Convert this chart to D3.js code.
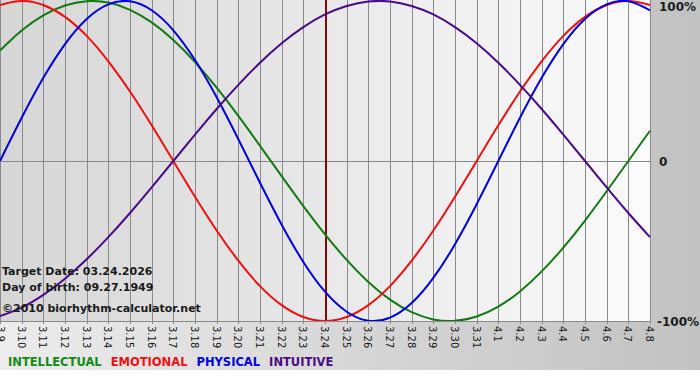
<!DOCTYPE html>
<html><head><meta charset="utf-8">
<script src="https://cdn.jsdelivr.net/npm/d3@7"></script>
<style>body{margin:0;background:#fff}svg{display:block}</style>
</head><body>
<script>
const dayLabels = ["3.9","3.10","3.11","3.12","3.13","3.14","3.15","3.16","3.17","3.18","3.19","3.20","3.21","3.22","3.23","3.24","3.25","3.26","3.27","3.28","3.29","3.30","3.31","4.1","4.2","4.3","4.4","4.5","4.6","4.7","4.8"];
const physical = [0,27.0,52.0,73.1,88.8,97.9,99.8,94.2,81.7,63.1,39.8,13.6,-13.6,-39.8,-63.1,-81.7,-94.2,-99.8,-97.9,-88.8,-73.1,-52.0,-27.0,0,27.0,52.0,73.1,88.8,97.9,99.8,94.2];
const emotional = [97.5,100,97.5,90.1,78.2,62.3,43.4,22.3,0,-22.3,-43.4,-62.3,-78.2,-90.1,-97.5,-100,-97.5,-90.1,-78.2,-62.3,-43.4,-22.3,0,22.3,43.4,62.3,78.2,90.1,97.5,100,97.5];
const intellectual = [69.0,81.5,91.0,97.2,99.9,99.0,94.5,86.6,75.6,61.8,45.8,28.2,9.5,-9.5,-28.2,-45.8,-61.8,-75.6,-86.6,-94.5,-99.0,-99.9,-97.2,-91.0,-81.5,-69.0,-54.1,-37.2,-18.9,0,18.9];
const intuitive = [-96.9,-91.6,-83.7,-73.6,-61.4,-47.6,-32.5,-16.5,0,16.5,32.5,47.6,61.4,73.6,83.7,91.6,96.9,99.7,99.7,96.9,91.6,83.7,73.6,61.4,47.6,32.5,16.5,0,-16.5,-32.5,-47.6];
const yTicks = [100,0,-100];
const yTickLabels = ["100%","0","-100%"];
const targetIndex = 15;
const infoLines = ["Target Date: 03.24.2026","Day of birth: 09.27.1949","©2010 biorhythm-calculator.net"];
const legendNames = ["INTELLECTUAL","EMOTIONAL","PHYSICAL","INTUITIVE"];
const series = [
  {name:"INTELLECTUAL", values:intellectual, color:"#137a13"},
  {name:"EMOTIONAL", values:emotional, color:"#ee1111"},
  {name:"PHYSICAL", values:physical, color:"#0000dd"},
  {name:"INTUITIVE", values:intuitive, color:"#4b0a86"}
];
const legendColors = {"INTELLECTUAL":"#138a13","EMOTIONAL":"#ee1111","PHYSICAL":"#0000dd","INTUITIVE":"#4b0a86"};

const W=700,H=380;
const pl=0,pr=650,pt=0,pb=321;
const svg=d3.select("body").append("svg").attr("width",W).attr("height",H);
const defs=svg.append("defs");
const g1=defs.append("linearGradient").attr("id","outer").attr("x1","0").attr("x2","1").attr("y1","0").attr("y2","0");
g1.append("stop").attr("offset","0").attr("stop-color","#ececec");
g1.append("stop").attr("offset","1").attr("stop-color","#c2c2c2");
const g2=defs.append("linearGradient").attr("id","plotbg").attr("x1","0").attr("x2","1").attr("y1","0").attr("y2","0");
g2.append("stop").attr("offset","0").attr("stop-color","#d6d6d6");
g2.append("stop").attr("offset","1").attr("stop-color","#fbfbfb");
defs.append("clipPath").attr("id","clip").append("rect").attr("x",pl).attr("y",pt).attr("width",pr-pl+1).attr("height",pb-pt);

svg.append("rect").attr("x",0).attr("y",0).attr("width",W).attr("height",370).attr("fill","url(#outer)");
svg.append("rect").attr("x",pl).attr("y",pt).attr("width",pr-pl).attr("height",pb-pt).attr("fill","url(#plotbg)");

const x=d3.scaleLinear().domain([0,dayLabels.length-1]).range([pl,pr]);
const y=d3.scaleLinear().domain([-100,100]).range([pb,pt+1]);

// vertical grid
svg.append("g").selectAll("line").data(dayLabels).join("line")
  .attr("x1",(d,i)=>Math.round(x(i))+0.5).attr("x2",(d,i)=>Math.round(x(i))+0.5)
  .attr("y1",pt).attr("y2",pb+3).attr("stroke","#8a8a8a").attr("stroke-width",1);
// zero line
svg.append("line").attr("x1",pl).attr("x2",pr).attr("y1",Math.round(y(0))+0.5).attr("y2",Math.round(y(0))+0.5).attr("stroke","#8a8a8a");
// bottom axis line
svg.append("line").attr("x1",pl).attr("x2",pr+1).attr("y1",pb+0.5).attr("y2",pb+0.5).attr("stroke","#8a8a8a");

// tick labels rotated
svg.append("g").selectAll("text").data(dayLabels).join("text")
  .attr("transform",(d,i)=>`translate(${Math.max(Math.round(x(i))-4,-3)},${pb+5}) rotate(90)`)
  .attr("font-family","DejaVu Sans, Verdana, sans-serif").attr("font-size",10).attr("fill","#1a1a1a")
  .text(d=>d);

// target line
svg.append("line").attr("x1",Math.round(x(targetIndex))+1).attr("x2",Math.round(x(targetIndex))+1)
  .attr("y1",pt).attr("y2",pb).attr("stroke","#7a0a0a").attr("stroke-width",2);

const line=d3.line().x((d,i)=>x(i)).y(d=>y(d)).curve(d3.curveNatural);
svg.append("g").attr("clip-path","url(#clip)").selectAll("path").data(series).join("path")
  .attr("d",s=>line(s.values)).attr("fill","none").attr("stroke",s=>s.color).attr("stroke-width",2);

// y labels
svg.append("g").selectAll("text").data(yTicks).join("text")
  .attr("x",(d,i)=>i===2?657:659).attr("y",d=>y(d)+(d===100?10:5))
  .attr("font-family","DejaVu Sans, Verdana, sans-serif").attr("font-weight","bold").attr("font-size",12).attr("fill","#1a1a1a")
  .text((d,i)=>yTickLabels[i]);

// info text
svg.append("g").selectAll("text").data(infoLines).join("text")
  .attr("x",2).attr("y",(d,i)=>[275,291,312][i])
  .attr("font-family","DejaVu Sans, Verdana, sans-serif").attr("font-weight","bold").attr("font-size",11).attr("fill","#1a1a1a")
  .text(d=>d);

// legend
const leg=svg.append("text").attr("x",8).attr("y",366).attr("word-spacing",5)
  .attr("font-family","DejaVu Sans, Verdana, sans-serif").attr("font-weight","bold").attr("font-size",11.5);
legendNames.forEach((n,i)=>{
  leg.append("tspan").attr("fill",legendColors[n]).text((i?" ":"")+n);
});
</script>
</body></html>
